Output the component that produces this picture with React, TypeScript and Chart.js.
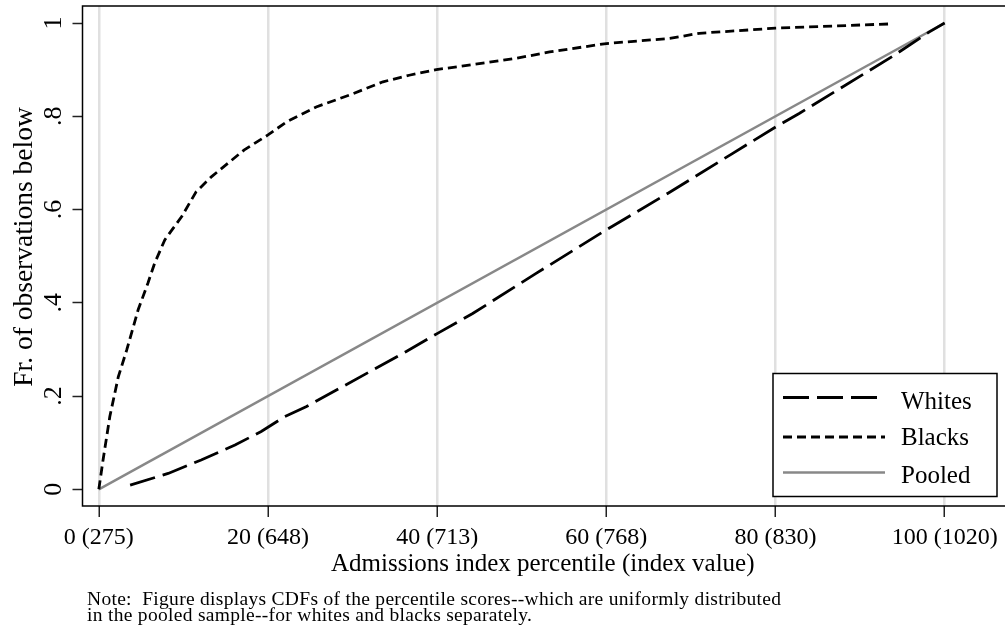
import React, { useEffect, useRef } from "react";
import { Chart, registerables } from "chart.js";

Chart.register(...registerables);

// ---- Data ----
const xTickValues = [0, 20, 40, 60, 80, 100];
const xTickLabels = ["0 (275)", "20 (648)", "40 (713)", "60 (768)", "80 (830)", "100 (1020)"];
const yTickValues = [0, 0.2, 0.4, 0.6, 0.8, 1];
const yTickLabels = ["0", ".2", ".4", ".6", ".8", "1"];

const whitesX = [3.7, 8.2, 12.1, 16.1, 19.2, 22, 24.5, 28.5, 32.4, 36.3, 40.1, 44.2, 51.7, 59.6, 67.3, 74.9, 80.1, 82.8, 93.8, 98.2, 100];
const whitesY = [0.009, 0.034, 0.063, 0.095, 0.124, 0.156, 0.177, 0.217, 0.256, 0.295, 0.335, 0.377, 0.463, 0.552, 0.635, 0.72, 0.778, 0.806, 0.928, 0.981, 1];

const blacksX = [0, 0.5, 1.3, 2.3, 3.3, 4.65, 5.8, 6.6, 7.8, 9.8, 11.5, 13.3, 17.2, 20, 22.2, 25.7, 29.7, 33.6, 36.7, 39.9, 45.4, 49.3, 53.3, 60, 67.5, 71, 80, 93.4];
const blacksY = [0, 0.063, 0.156, 0.241, 0.299, 0.385, 0.442, 0.485, 0.535, 0.585, 0.638, 0.67, 0.728, 0.76, 0.788, 0.82, 0.846, 0.874, 0.888, 0.9, 0.914, 0.924, 0.938, 0.956, 0.967, 0.978, 0.989, 0.998];

const pooledX = [0, 100];
const pooledY = [0, 1];

const seriesNames = ["Whites", "Blacks", "Pooled"];
const xTitle = "Admissions index percentile (index value)";
const yTitle = "Fr. of observations below";
const noteLines = [
  "Note:  Figure displays CDFs of the percentile scores--which are uniformly distributed",
  "in the pooled sample--for whites and blacks separately.",
];

const FONT = '"Liberation Serif", "Times New Roman", serif';

const toPoints = (xs: number[], ys: number[]) => xs.map((x, i) => ({ x, y: ys[i] }));

const decorPlugin = {
  id: "decor",
  afterDraw(chart: any) {
    const { ctx, chartArea, scales, width } = chart;
    const ys = scales.y;
    ctx.save();
    // frame (top, left, bottom)
    ctx.strokeStyle = "#000";
    ctx.lineWidth = 1.5;
    ctx.beginPath();
    ctx.moveTo(width, chartArea.top);
    ctx.lineTo(chartArea.left, chartArea.top);
    ctx.lineTo(chartArea.left, chartArea.bottom);
    ctx.lineTo(width, chartArea.bottom);
    ctx.stroke();

    // y tick labels (rotated)
    ctx.fillStyle = "#000";
    ctx.font = `26px ${FONT}`;
    ctx.textAlign = "center";
    ctx.textBaseline = "alphabetic";
    yTickValues.forEach((v, i) => {
      const py = ys.getPixelForValue(v);
      ctx.save();
      ctx.translate(61, py);
      ctx.rotate(-Math.PI / 2);
      ctx.fillText(yTickLabels[i], 0, 0);
      ctx.restore();
    });

    // y title
    ctx.font = `27.5px ${FONT}`;
    ctx.save();
    ctx.translate(32, 247);
    ctx.rotate(-Math.PI / 2);
    ctx.fillText(yTitle, 0, 0);
    ctx.restore();

    // x title
    ctx.font = `25px ${FONT}`;
    ctx.textAlign = "center";
    ctx.fillText(xTitle, (chartArea.left + chartArea.right) / 2, 571);

    // note
    ctx.save();
    ctx.font = `19.5px ${FONT}`;
    (ctx as any).letterSpacing = "0.3px";
    ctx.textAlign = "left";
    ctx.fillText(noteLines[0], 87, 605);
    ctx.fillText(noteLines[1], 87, 621);
    ctx.restore();

    // legend
    const bx = 773, by = 373.5, bw = 224, bh = 123;
    ctx.fillStyle = "#fff";
    ctx.fillRect(bx, by, bw, bh);
    ctx.strokeStyle = "#000";
    ctx.lineWidth = 1.5;
    ctx.strokeRect(bx, by, bw, bh);
    const rowY = [397.5, 437, 472.5];
    const baseY = [408.5, 445, 482.5];
    chart.data.datasets.forEach((ds: any, i: number) => {
      ctx.save();
      ctx.strokeStyle = ds.borderColor;
      ctx.lineWidth = ds.borderWidth;
      ctx.setLineDash(ds.borderDash || []);
      ctx.beginPath();
      ctx.moveTo(783, rowY[i]);
      ctx.lineTo(885, rowY[i]);
      ctx.stroke();
      ctx.restore();
      ctx.fillStyle = "#000";
      ctx.font = `25px ${FONT}`;
      ctx.textAlign = "left";
      ctx.fillText(ds.label, 901, baseY[i]);
    });
    ctx.restore();
  },
};

export default function App() {
  const ref = useRef<HTMLCanvasElement>(null);
  useEffect(() => {
    const chart = new Chart(ref.current!, {
      type: "line",
      data: {
        datasets: [
          {
            label: seriesNames[0],
            data: toPoints(whitesX, whitesY),
            borderColor: "#000",
            borderWidth: 2.8,
            borderDash: [26, 8],
            pointRadius: 0,
            fill: false,
            tension: 0,
          },
          {
            label: seriesNames[1],
            data: toPoints(blacksX, blacksY),
            borderColor: "#000",
            borderWidth: 2.8,
            borderDash: [9, 5],
            pointRadius: 0,
            fill: false,
            tension: 0,
          },
          {
            label: seriesNames[2],
            data: toPoints(pooledX, pooledY),
            borderColor: "#888",
            borderWidth: 2.5,
            pointRadius: 0,
            fill: false,
            tension: 0,
          },
        ],
      },
      options: {
        responsive: false,
        animation: false,
        devicePixelRatio: 1,
        layout: { padding: { top: 6, left: 0, right: 2, bottom: 0 } },
        plugins: {
          legend: { display: false },
          title: { display: false },
          tooltip: { enabled: false },
        },
        scales: {
          x: {
            type: "linear",
            min: -1.93,
            max: 106.9,
            afterBuildTicks: (s: any) => {
              s.ticks = xTickValues.map((v) => ({ value: v }));
            },
            afterFit: (s: any) => {
              s.height = 128;
            },
            border: { display: false },
            grid: {
              display: true,
              drawOnChartArea: true,
              color: "#e0e0e0",
              lineWidth: 2.5,
              drawTicks: true,
              tickLength: 11,
              tickColor: "#222",
              tickWidth: 1.5,
            },
            ticks: {
              color: "#000",
              font: { family: FONT, size: 24 },
              padding: 6,
              maxRotation: 0,
              minRotation: 0,
              autoSkip: false,
              callback: (v: any) => {
                const i = xTickValues.indexOf(Number(v));
                return i >= 0 ? xTickLabels[i] : "";
              },
            },
          },
          y: {
            type: "linear",
            min: -0.0358,
            max: 1.0365,
            afterBuildTicks: (s: any) => {
              s.ticks = yTickValues.map((v) => ({ value: v }));
            },
            afterFit: (s: any) => {
              s.width = 82.5;
            },
            border: { display: false },
            grid: {
              display: true,
              drawOnChartArea: false,
              drawTicks: true,
              tickLength: 10,
              tickColor: "#222",
              tickWidth: 1.5,
            },
            ticks: { display: false },
          },
        },
      },
      plugins: [decorPlugin],
    } as any);
    return () => chart.destroy();
  }, []);
  return (
    <div style={{ position: "absolute", left: 0, top: 0, width: 1005, height: 634, background: "#fff", overflow: "hidden" }}>
      <canvas ref={ref} width={1005} height={634} style={{ display: "block", width: 1005, height: 634 }} />
    </div>
  );
}
